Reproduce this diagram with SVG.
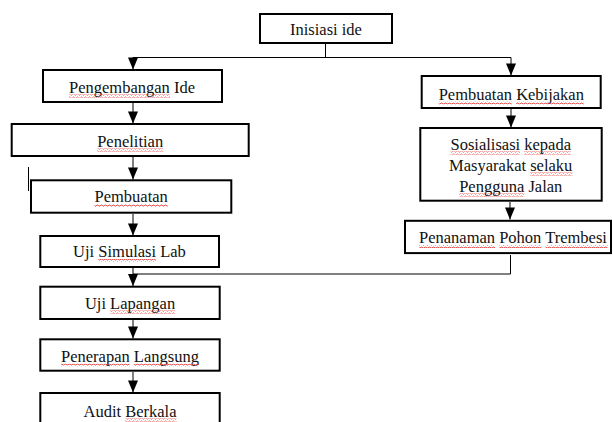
<svg xmlns="http://www.w3.org/2000/svg" width="613" height="422" viewBox="0 0 613 422">
  <defs>
    <style>
      .box { fill: #fff; stroke: #000; stroke-width: 2; }
      .lbl { font-size: 16.5px; fill: #111; }
      .line { fill: none; stroke: #000; stroke-width: 1; }
      .arr { marker-end: url(#head); }
      .sq { fill: url(#wave); }
    </style>
    <marker id="head" viewBox="0 0 12 10" refX="12" refY="5" markerUnits="userSpaceOnUse" markerWidth="12" markerHeight="10" orient="auto" overflow="visible">
      <path d="M0,0 L12,5 L0,10 z" fill="#000"/>
    </marker>
    <!-- squiggly spelling underline -->
    <pattern id="wave" width="4" height="3" patternUnits="userSpaceOnUse">
      <path d="M0,2.2 Q1,0.2 2,1.2 T4,2.2" fill="none" stroke="#e23b3b" stroke-width="0.9"/>
    </pattern>
  </defs>

  <!-- connectors -->
  <g id="connectors">
    <path class="line" d="M325.5,44 V57.5"/>
    <path class="line" d="M133,57.5 H511"/>
    <path class="line arr" d="M133,57.5 V69.5"/>
    <path class="line arr" d="M511,57.5 V75.5"/>
    <path class="line arr" d="M133,103 V123.5"/>
    <path class="line arr" d="M133,157 V179.5"/>
    <path class="line arr" d="M133,214 V235.5"/>
    <path class="line arr" d="M133,268 V286"/>
    <path class="line arr" d="M133,320 V338.5"/>
    <path class="line arr" d="M133,372 V392.5"/>
    <path class="line arr" d="M511,109 V127.5"/>
    <path class="line arr" d="M510,202 V219.5"/>
    <path class="line" d="M510.5,255 V274 H133" stroke="#333"/>
    <path class="line" d="M28.5,167 V191" stroke-width="1.6"/>
  </g>

  <g font-family="'Liberation Serif', 'Times New Roman', 'DejaVu Serif', serif">
  <g id="inisiasi">
    <rect class="box" x="260" y="14" width="132" height="29"/>
    <text class="lbl" x="290" y="35">Inisiasi ide</text>
  </g>

  <g id="pengembangan">
    <rect class="box" x="43" y="70" width="179" height="32"/>
    <text class="lbl" x="69" y="92.5">Pengembangan Ide</text>
    <rect class="sq" x="69" y="94.5" width="101" height="3"/>
  </g>

  <g id="penelitian">
    <rect class="box" x="11.7" y="124" width="237" height="32"/>
    <text class="lbl" x="97.2" y="146.5">Penelitian</text>
    <rect class="sq" x="97.2" y="148.5" width="66" height="3"/>
  </g>

  <g id="pembuatan">
    <rect class="box" x="31" y="180.3" width="200.3" height="32.4"/>
    <text class="lbl" x="94.5" y="202">Pembuatan</text>
    <rect class="sq" x="94.5" y="204" width="73.3" height="3"/>
  </g>

  <g id="uji-simulasi">
    <rect class="box" x="40.3" y="236" width="178.7" height="31"/>
    <text class="lbl" x="73.1" y="257">Uji Simulasi Lab</text>
    <rect class="sq" x="98.3" y="259" width="57.8" height="3"/>
  </g>

  <g id="uji-lapangan">
    <rect class="box" x="40.3" y="286.7" width="179.4" height="32.3"/>
    <text class="lbl" x="84.9" y="308.5">Uji Lapangan</text>
    <rect class="sq" x="110.1" y="310.5" width="65.1" height="3"/>
  </g>

  <g id="penerapan">
    <rect class="box" x="40.3" y="339.3" width="179.4" height="31.4"/>
    <text class="lbl" x="61" y="361.5">Penerapan Langsung</text>
    <rect class="sq" x="61" y="363.5" width="68.7" height="3"/>
    <rect class="sq" x="133.8" y="363.5" width="65.1" height="3"/>
  </g>

  <g id="audit">
    <rect class="box" x="40.3" y="393" width="179.4" height="40"/>
    <text class="lbl" x="83.5" y="416.5">Audit Berkala</text>
    <rect class="sq" x="125.2" y="418.5" width="51.3" height="3"/>
  </g>

  <g id="kebijakan">
    <rect class="box" x="421.7" y="76" width="179" height="32"/>
    <text class="lbl" x="438.7" y="99.5">Pembuatan Kebijakan</text>
    <rect class="sq" x="438.7" y="101.5" width="73.3" height="3"/>
    <rect class="sq" x="516.2" y="101.5" width="67.8" height="3"/>
  </g>

  <g id="sosialisasi">
    <rect class="box" x="420.3" y="128" width="181.4" height="72.7"/>
    <text class="lbl" x="450.5" y="149.5">Sosialisasi kepada</text>
    <rect class="sq" x="450.5" y="151.5" width="69.5" height="3"/>
    <rect class="sq" x="524.1" y="151.5" width="46.7" height="3"/>
    <text class="lbl" x="449.1" y="170.5">Masyarakat selaku</text>
    <rect class="sq" x="530.2" y="172.5" width="42.2" height="3"/>
    <text class="lbl" x="459.2" y="191.5">Pengguna Jalan</text>
    <rect class="sq" x="459.2" y="193.5" width="65.1" height="3"/>
  </g>

  <g id="penanaman">
    <rect class="box" x="405" y="220.8" width="206" height="32.3" stroke-width="3"/>
    <text class="lbl" x="419" y="243">Penanaman Pohon Trembesi</text>
    <rect class="sq" x="419" y="245" width="76.1" height="3"/>
    <rect class="sq" x="499.2" y="245" width="42.2" height="3"/>
    <rect class="sq" x="545.5" y="245" width="62.3" height="3"/>
  </g>
  </g>
</svg>
